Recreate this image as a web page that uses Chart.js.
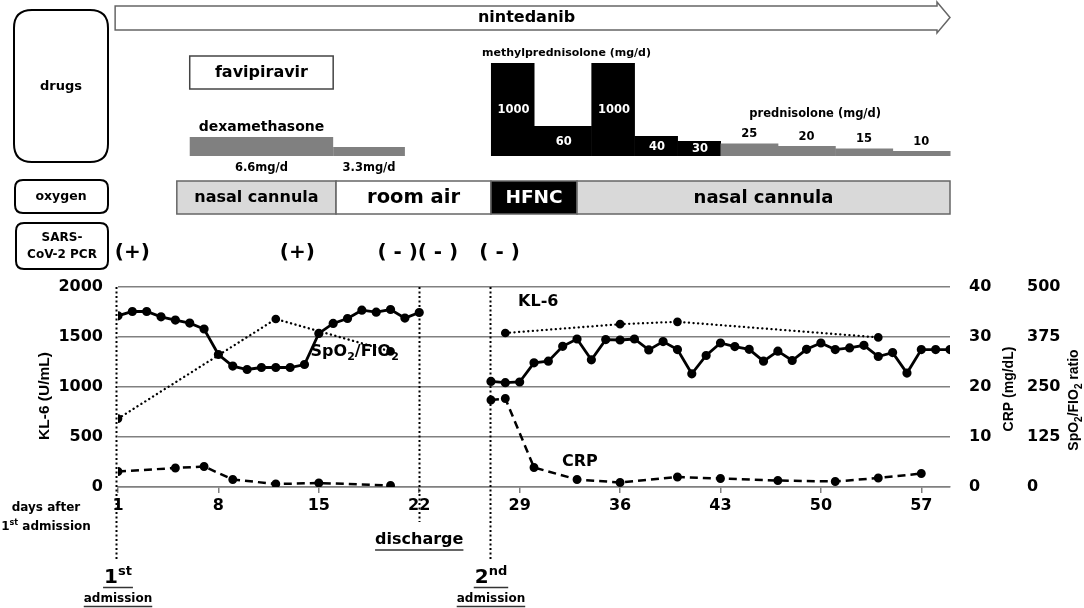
<!DOCTYPE html>
<html><head><meta charset="utf-8">
<script src="https://cdn.jsdelivr.net/npm/chart.js@4"></script>
<style>html,body{margin:0;padding:0;background:#fff;}#wrap{width:1084px;height:608px;}</style>
</head><body><div id="wrap"><canvas id="c" width="1084" height="608"></canvas></div>
<script>
const FONT = '"DejaVu Sans", sans-serif';
const AFONT = '"Liberation Sans", Arial, sans-serif';

// ---- axis ticks ----
const xTickDays = [1, 8, 15, 22, 29, 36, 43, 50, 57];
const kl6Ticks = [0, 500, 1000, 1500, 2000];
const crpTicks = [0, 10, 20, 30, 40];
const sfTicks = [0, 125, 250, 375, 500];

// ---- KL-6 (U/mL) ----
const kl6Days1 = [1,2,3,4,5,6,7,8,9,10,11,12,13,14,15,16,17,18,19,20,21,22];
const kl6Vals1 = [1712,1755,1755,1702,1669,1639,1580,1325,1209,1175,1195,1195,1195,1225,1536,1636,1685,1768,1748,1775,1689,1745];
const kl6Days2 = [27,28,29,30,31,32,33,34,35,36,37,38,39,40,41,42,43,44,45,46,47,48,49,50,51,52,53,54,55,56,57,58,59];
const kl6Vals2 = [1056,1043,1050,1242,1258,1407,1480,1272,1474,1470,1480,1371,1454,1374,1132,1315,1440,1404,1377,1258,1358,1265,1377,1440,1374,1391,1417,1305,1344,1139,1374,1374,1374];

// ---- CRP (mg/dL) ----
const crpDays1 = [1,5,7,9,12,15,20];
const crpVals1 = [3.1,3.8,4.1,1.5,0.6,0.8,0.3];
const crpDays2 = [27,28,30,33,36,40,43,47,51,54,57];
const crpVals2 = [17.4,17.7,3.9,1.5,0.9,2.0,1.7,1.3,1.1,1.8,2.7];

// ---- SpO2/FIO2 ratio ----
const sfDays1 = [1,12,20];
const sfVals1 = [171,420,339];
const sfDays2 = [28,36,40,54];
const sfVals2 = [385,407,413,374];

// ---- treatment timeline (days) ----
const nintedanibSpan = [0.8, 59];
const favipiravirSpan = [6, 16];
const dexDays = [6, 16, 21];
const dexDoses = ['6.6mg/d', '3.3mg/d'];
const mpslDays = [27, 30, 34, 37, 40, 43];
const mpslDoses = [1000, 60, 1000, 40, 30];
const pslDays = [43, 47, 51, 55, 59];
const pslDoses = [25, 20, 15, 10];
const oxygenDays = [5.1, 16.2, 27, 33, 59];
const oxygenModes = ['nasal cannula', 'room air', 'HFNC', 'nasal cannula'];
const pcrDays = [2, 13.5, 20.5, 23.3, 27.6];
const pcrResults = ['(+)', '(+)', '( - )', '( - )', '( - )'];
const eventDays = [0.85, 22, 26.95]; // 1st admission, discharge, 2nd admission

function joinSeg(d1, v1, d2, v2) {
  const a = d1.map((d, i) => ({x: d, y: v1[i]}));
  a.push({x: (d1[d1.length - 1] + d2[0]) / 2, y: null});
  return a.concat(d2.map((d, i) => ({x: d, y: v2[i]})));
}

function txt(ctx, s, x, y, size, o = {}) {
  ctx.font = `${o.weight || 'bold'} ${size}px ${o.family || FONT}`;
  ctx.fillStyle = o.color || '#000';
  ctx.textAlign = o.align || 'center';
  ctx.textBaseline = o.base || 'middle';
  ctx.fillText(s, x, y);
}
function rich(ctx, parts, x, y, align, family) {
  const f = family || FONT;
  let w = 0;
  parts.forEach(p => { ctx.font = `bold ${p[1]}px ${f}`; w += ctx.measureText(p[0]).width; });
  let cx = align === 'center' ? x - w / 2 : (align === 'right' ? x - w : x);
  ctx.textAlign = 'left'; ctx.textBaseline = 'alphabetic'; ctx.fillStyle = '#000';
  parts.forEach(p => { ctx.font = `bold ${p[1]}px ${f}`; ctx.fillText(p[0], cx, y + (p[2] || 0)); cx += ctx.measureText(p[0]).width; });
  return w;
}
function rrect(ctx, x, y, w, h, r) {
  ctx.beginPath();
  ctx.moveTo(x + r, y); ctx.lineTo(x + w - r, y); ctx.quadraticCurveTo(x + w, y, x + w, y + r);
  ctx.lineTo(x + w, y + h - r); ctx.quadraticCurveTo(x + w, y + h, x + w - r, y + h);
  ctx.lineTo(x + r, y + h); ctx.quadraticCurveTo(x, y + h, x, y + h - r);
  ctx.lineTo(x, y + r); ctx.quadraticCurveTo(x, y, x + r, y); ctx.closePath();
}
function underline(ctx, x, y, w) {
  ctx.save(); ctx.strokeStyle = '#333'; ctx.lineWidth = 1.5; ctx.setLineDash([]);
  ctx.beginPath(); ctx.moveTo(x - w / 2, y); ctx.lineTo(x + w / 2, y); ctx.stroke(); ctx.restore();
}

const annot = {
  id: 'annot',
  afterDraw(chart) {
    const ctx = chart.ctx, xs = chart.scales.x, ys = chart.scales.y, a = chart.chartArea;
    const X = d => xs.getPixelForValue(d);
    ctx.save();

    // left category boxes
    ctx.strokeStyle = '#000'; ctx.lineWidth = 2;
    rrect(ctx, 14, 10, 94, 152, 18); ctx.stroke();
    txt(ctx, 'drugs', 61, 87, 13);
    rrect(ctx, 15, 180, 93, 33, 8); ctx.stroke();
    txt(ctx, 'oxygen', 61, 197, 12.5);
    rrect(ctx, 16, 223, 92, 46, 8); ctx.stroke();
    txt(ctx, 'SARS-', 62, 238, 12);
    txt(ctx, 'CoV-2 PCR', 62, 255, 12);

    // nintedanib arrow
    const n0 = X(nintedanibSpan[0]), nt = X(nintedanibSpan[1]), nh = nt - 13;
    ctx.beginPath();
    ctx.moveTo(n0, 6); ctx.lineTo(nh, 6); ctx.lineTo(nh, 2); ctx.lineTo(nt, 17.5);
    ctx.lineTo(nh, 33); ctx.lineTo(nh, 30); ctx.lineTo(n0, 30); ctx.closePath();
    ctx.strokeStyle = '#666'; ctx.lineWidth = 1.5; ctx.stroke();
    txt(ctx, 'nintedanib', (n0 + nt) / 2 - 6, 18, 16);

    // favipiravir
    const f0 = X(favipiravirSpan[0]), f1 = X(favipiravirSpan[1]);
    ctx.strokeStyle = '#444'; ctx.lineWidth = 1.5;
    ctx.strokeRect(f0, 56, f1 - f0, 33);
    txt(ctx, 'favipiravir', (f0 + f1) / 2, 72.5, 16);

    // dexamethasone
    const base = 156;
    const dexH = [19, 9];
    for (let i = 0; i < dexDoses.length; i++) {
      const x0 = X(dexDays[i]), x1 = X(dexDays[i + 1]);
      ctx.fillStyle = '#808080';
      ctx.fillRect(x0, base - dexH[i], x1 - x0, dexH[i]);
      txt(ctx, dexDoses[i], (x0 + x1) / 2, 168, 11.5);
    }
    txt(ctx, 'dexamethasone', (X(dexDays[0]) + X(dexDays[1])) / 2, 127, 14);

    // methylprednisolone pulses (black)
    txt(ctx, 'methylprednisolone (mg/d)', X(mpslDays[0]) - 9, 53, 11, {align: 'left'});
    for (let i = 0; i < mpslDoses.length; i++) {
      const x0 = X(mpslDays[i]), x1 = X(mpslDays[i + 1]);
      const h = Math.min(mpslDoses[i], 186) * 0.5;
      ctx.fillStyle = '#000';
      ctx.fillRect(x0, base - h, x1 - x0 + 0.5, h);
      txt(ctx, String(mpslDoses[i]), (x0 + x1) / 2 + 1, base - h / 2 + 1, 11.5, {color: '#fff'});
    }
    // prednisolone (grey)
    txt(ctx, 'prednisolone (mg/d)', X(49.6), 114, 11.5);
    for (let i = 0; i < pslDoses.length; i++) {
      const x0 = X(pslDays[i]), x1 = X(pslDays[i + 1]);
      const h = pslDoses[i] * 0.5;
      ctx.fillStyle = '#808080';
      ctx.fillRect(x0, base - h, x1 - x0 + 0.5, h);
      txt(ctx, String(pslDoses[i]), (x0 + x1) / 2, base - h - 9, 11.5);
    }

    // oxygen row
    const oy = 181, oh = 33;
    const oFill = {'nasal cannula': '#d9d9d9', 'room air': '#ffffff', 'HFNC': '#000000'};
    const oSize = [16, 19.5, 18.5, 18];
    for (let i = 0; i < oxygenModes.length; i++) {
      const x0 = X(oxygenDays[i]), x1 = X(oxygenDays[i + 1]);
      const m = oxygenModes[i];
      ctx.fillStyle = oFill[m];
      ctx.fillRect(x0, oy, x1 - x0, oh);
      ctx.strokeStyle = '#666'; ctx.lineWidth = 1.5;
      ctx.strokeRect(x0, oy, x1 - x0, oh);
      txt(ctx, m, (x0 + x1) / 2, oy + oh / 2 + 0.5, oSize[i], {color: m === 'HFNC' ? '#fff' : '#000'});
    }

    // PCR results
    for (let i = 0; i < pcrDays.length; i++) {
      txt(ctx, pcrResults[i], X(pcrDays[i]), 253, 20);
    }

    // event vertical dotted lines
    ctx.strokeStyle = '#000'; ctx.lineWidth = 2; ctx.setLineDash([2, 2.5]);
    const ends = [560, 522, 560];
    eventDays.forEach((d, i) => {
      const x = Math.round(X(d)) + 0.5;
      ctx.beginPath(); ctx.moveTo(x, a.top); ctx.lineTo(x, ends[i]); ctx.stroke();
    });
    ctx.setLineDash([]);

    // series labels inside plot
    txt(ctx, 'KL-6', X(30.3), ys.getPixelForValue(1850), 16);
    txt(ctx, 'CRP', X(33.2), ys.getPixelForValue(250), 16);
    rich(ctx, [['SpO', 16], ['2', 11, 4], ['/FIO', 16], ['2', 11, 4]], X(17.5), ys.getPixelForValue(1370) + 6, 'center');

    // axis titles (rotated, reading upward)
    const y1s = chart.scales.y1, y2s = chart.scales.y2;
    const cy = (a.top + a.bottom) / 2;
    ctx.save(); ctx.translate(43, cy + 9); ctx.rotate(-Math.PI / 2);
    rich(ctx, [['KL-6 (U/mL)', 15.5]], 0, 5.5, 'center', AFONT); ctx.restore();
    ctx.save(); ctx.translate(y1s.left + 58, cy + 2); ctx.rotate(-Math.PI / 2);
    rich(ctx, [['CRP (mg/dL)', 14]], 0, 5, 'center', AFONT); ctx.restore();
    ctx.save(); ctx.translate(y2s.left + 51, cy + 13); ctx.rotate(-Math.PI / 2);
    rich(ctx, [['SpO', 14], ['2', 10, 4], ['/FIO', 14], ['2', 10, 4], [' ratio', 14]], 0, 5, 'center', AFONT); ctx.restore();

    // bottom annotations
    txt(ctx, 'days after', 46, 508, 12);
    rich(ctx, [['1', 12], ['st', 8, -5], [' admission', 12]], 46, 530, 'center');
    const dx = X(eventDays[1]);
    txt(ctx, 'discharge', dx, 540, 16);
    ctx.font = `bold 16px ${FONT}`;
    underline(ctx, dx, 550, ctx.measureText('discharge').width);

    [[X(1), '1', 'st'], [X(27), '2', 'nd']].forEach(([x, n, suf]) => {
      const w = rich(ctx, [[n, 20], [suf, 13, -8]], x, 583, 'center');
      underline(ctx, x, 587.5, w + 2);
      txt(ctx, 'admission', x, 599, 12);
      ctx.font = `bold 12px ${FONT}`;
      underline(ctx, x, 606.5, ctx.measureText('admission').width);
    });

    ctx.restore();
  }
};

const tickFont = {family: FONT, size: 16, weight: 'bold'};
const plain = v => String(v);

new Chart(document.getElementById('c'), {
  type: 'line',
  data: {
    datasets: [
      {label: 'KL-6', data: joinSeg(kl6Days1, kl6Vals1, kl6Days2, kl6Vals2), yAxisID: 'y',
        borderColor: '#000', backgroundColor: '#000', borderWidth: 2.8, pointRadius: 3.2, pointHoverRadius: 3.2, spanGaps: false, tension: 0},
      {label: 'CRP', data: joinSeg(crpDays1, crpVals1, crpDays2, crpVals2), yAxisID: 'y1',
        borderColor: '#000', backgroundColor: '#000', borderWidth: 2.5, borderDash: [8, 5], pointRadius: 3.2, pointHoverRadius: 3.2, spanGaps: false, tension: 0},
      {label: 'SpO2/FIO2', data: joinSeg(sfDays1, sfVals1, sfDays2, sfVals2), yAxisID: 'y2',
        borderColor: '#000', backgroundColor: '#000', borderWidth: 2.3, borderDash: [0.1, 4.5], borderCapStyle: 'round', pointRadius: 3.2, pointHoverRadius: 3.2, spanGaps: false, tension: 0}
    ]
  },
  options: {
    responsive: false, animation: false, events: [],
    layout: {padding: {left: 0, right: 0, top: 287, bottom: 0}},
    plugins: {legend: {display: false}, tooltip: {enabled: false}},
    scales: {
      x: {type: 'linear', min: 1, max: 59,
        afterBuildTicks: s => { s.ticks = xTickDays.map(v => ({value: v})); },
        afterFit: s => { s.height = 121; },
        grid: {drawOnChartArea: false, drawTicks: true, tickLength: 6, color: '#808080', lineWidth: 1.5},
        border: {display: true, color: '#808080', width: 1.5},
        ticks: {font: tickFont, color: '#000', padding: 3, maxRotation: 0, autoSkip: false, callback: plain}},
      y: {position: 'left', min: 0, max: 2000,
        afterBuildTicks: s => { s.ticks = kl6Ticks.map(v => ({value: v})); },
        afterFit: s => { s.width = 118; },
        grid: {color: '#808080', lineWidth: 1.5, drawTicks: false},
        border: {display: false},
        ticks: {font: tickFont, color: '#000', padding: 15, callback: plain}},
      y1: {position: 'right', min: 0, max: 40,
        afterBuildTicks: s => { s.ticks = crpTicks.map(v => ({value: v})); },
        afterFit: s => { s.width = 72; },
        grid: {display: false, drawTicks: false}, border: {display: false},
        ticks: {font: tickFont, color: '#000', padding: 19, callback: plain}},
      y2: {position: 'right', min: 0, max: 500,
        afterBuildTicks: s => { s.ticks = sfTicks.map(v => ({value: v})); },
        afterFit: s => { s.width = 62; },
        grid: {display: false, drawTicks: false}, border: {display: false},
        ticks: {font: tickFont, color: '#000', padding: 5, callback: plain}}
    }
  },
  plugins: [annot]
});
</script></body></html>
